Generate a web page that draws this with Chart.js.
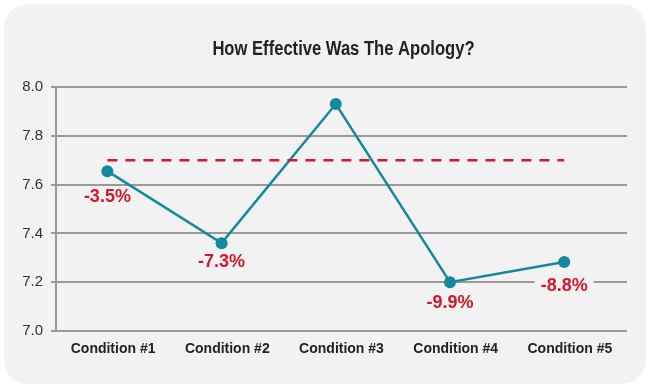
<!DOCTYPE html>
<html>
<head>
<meta charset="utf-8">
<script src="https://cdn.jsdelivr.net/npm/chart.js@4/dist/chart.umd.min.js"></script>
<style>
  html, body { margin: 0; padding: 0; background: #fff; }
  #card {
    position: absolute; left: 4px; top: 4px; width: 642px; height: 380px;
    background: #f2f2f2; border-radius: 24px;
  }
  #wrap { position: absolute; left: 0; top: 0; width: 650px; height: 388px; }
</style>
</head>
<body>
<div id="card"></div>
<div id="wrap"><canvas id="lineChart" width="650" height="388"></canvas></div>
<script>
// data
var chartTitle = 'How Effective Was The Apology?';
var conditions = ['Condition #1', 'Condition #2', 'Condition #3', 'Condition #4', 'Condition #5'];
var scores = [7.655, 7.36, 7.93, 7.2, 7.283];
var benchmark = [7.7, 7.7, 7.7, 7.7, 7.7];
var changeLabels = ['-3.5%', '-7.3%', null, '-9.9%', '-8.8%'];
var yTicks = [7.0, 7.2, 7.4, 7.6, 7.8, 8.0];

// how far below each point its label sits (px)
var labelDrop = [25, 18, 0, 20, 23];

var teal = '#13899e';
var red = '#d3172c';
var gridGray = '#999999';
var sans = '"Liberation Sans", Arial, sans-serif';

Chart.defaults.font.family = sans;

function toPoints(arr) {
  return arr.map(function (v, i) { return { x: i, y: v }; });
}

// red percentage labels under the points, drawn before the line so it stays on top
var changeLabelPlugin = {
  id: 'changeLabels',
  beforeDatasetsDraw: function (chart) {
    var ctx = chart.ctx;
    var meta = chart.getDatasetMeta(1);
    ctx.save();
    ctx.font = 'bold 18px ' + sans;
    ctx.textAlign = 'center';
    ctx.textBaseline = 'middle';
    meta.data.forEach(function (pt, i) {
      var txt = changeLabels[i];
      if (!txt) return;
      var x = pt.x;
      var y = pt.y + labelDrop[i];
      var w = ctx.measureText(txt).width;
      ctx.fillStyle = '#f2f2f2';
      ctx.fillRect(x - w / 2 - 6, y - 8, w + 12, 16);
      ctx.fillStyle = red;
      ctx.fillText(txt, x, y + 1);
    });
    ctx.restore();
  }
};

// condensed bold title (no narrow font installed, so squeeze it)
var condensedTitlePlugin = {
  id: 'condensedTitle',
  afterDraw: function (chart) {
    var ctx = chart.ctx;
    var area = chart.chartArea;
    ctx.save();
    ctx.font = 'bold 20px ' + sans;
    ctx.fillStyle = '#222';
    ctx.textAlign = 'center';
    ctx.textBaseline = 'middle';
    ctx.translate((area.left + area.right) / 2 + 2, 49);
    ctx.scale(0.83, 1);
    ctx.fillText(chartTitle, 0, 0);
    ctx.restore();
  }
};

var ctx = document.getElementById('lineChart').getContext('2d');
new Chart(ctx, {
  type: 'line',
  data: {
    labels: conditions,
    datasets: [
      {
        label: 'Benchmark',
        data: toPoints(benchmark),
        xAxisID: 'xp',
        borderColor: red,
        borderWidth: 2.5,
        borderDash: [10, 8],
        pointRadius: 0,
        fill: false
      },
      {
        label: 'Score',
        data: toPoints(scores),
        xAxisID: 'xp',
        borderColor: teal,
        borderWidth: 2.5,
        pointRadius: 6,
        pointBackgroundColor: teal,
        pointBorderColor: teal,
        pointBorderWidth: 0,
        fill: false
      }
    ]
  },
  options: {
    responsive: false,
    animation: false,
    layout: { padding: { top: 87, left: 22, right: 23, bottom: 29 } },
    plugins: {
      legend: { display: false },
      tooltip: { enabled: false },
      title: { display: false }
    },
    scales: {
      x: {
        type: 'category',
        offset: true,
        grid: { display: false, drawTicks: false },
        border: { display: false },
        afterFit: function (axis) { axis.height = 28; },
        ticks: {
          color: '#222',
          padding: 10,
          font: { family: sans, size: 14, weight: 'bold' }
        }
      },
      xp: {
        type: 'linear',
        display: false,
        min: -0.45,
        max: 4.55
      },
      y: {
        min: yTicks[0],
        max: yTicks[yTicks.length - 1],
        afterBuildTicks: function (axis) {
          axis.ticks = yTicks.map(function (v) { return { value: v }; });
        },
        afterFit: function (axis) { axis.width = 34; },
        grid: { color: gridGray, lineWidth: 2, tickLength: 5 },
        border: { display: true, color: gridGray, width: 2 },
        ticks: {
          color: '#333',
          padding: 8,
          font: { family: sans, size: 15 },
          callback: function (v) { return Number(v).toFixed(1); }
        }
      }
    }
  },
  plugins: [changeLabelPlugin, condensedTitlePlugin]
});
</script>
</body>
</html>
